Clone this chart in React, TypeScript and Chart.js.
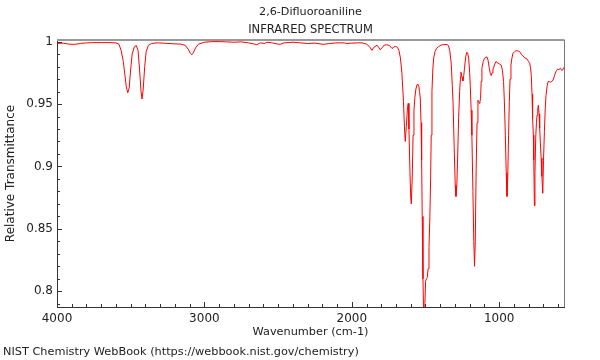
import React, { useEffect, useRef } from "react";
import { Chart, registerables } from "chart.js";

Chart.register(...registerables);

const TITLE = "2,6-Difluoroaniline";
const SUBTITLE = "INFRARED SPECTRUM";
const X_LABEL = "Wavenumber (cm-1)";
const Y_LABEL = "Relative Transmittance";
const FOOTER = "NIST Chemistry WebBook (https://webbook.nist.gov/chemistry)";

const WAVENUMBER = [
  4000, 3960, 3920, 3880, 3840, 3800, 3760, 3700, 3640, 3600,
  3580, 3565, 3550, 3540, 3530, 3520, 3510, 3500, 3490, 3475,
  3462, 3450, 3440, 3430, 3423, 3415, 3405, 3395, 3380, 3360,
  3320, 3280, 3240, 3200, 3160, 3130, 3110, 3095, 3085, 3075,
  3060, 3040, 3000, 2950, 2900, 2850, 2800, 2750, 2700, 2660,
  2644, 2620, 2590, 2576, 2540, 2500, 2486, 2460, 2420, 2397,
  2350, 2300, 2250, 2194, 2150, 2100, 2050, 2033, 2000, 1960,
  1930, 1900, 1880, 1863, 1850, 1829, 1815, 1807, 1795, 1780,
  1765, 1745, 1727, 1715, 1705, 1690, 1680, 1670, 1660, 1649,
  1642, 1637, 1630, 1623, 1617, 1612, 1605, 1600, 1596, 1590,
  1584, 1578, 1572, 1565, 1557, 1552, 1545, 1540, 1535, 1530,
  1526, 1522, 1517, 1512, 1508, 1504, 1499, 1493, 1488, 1482,
  1476, 1470, 1465, 1461, 1456, 1450, 1444, 1435, 1425, 1410,
  1395, 1375, 1354, 1345, 1335, 1325, 1318, 1313, 1305, 1298,
  1293, 1287, 1281, 1275, 1268, 1262, 1259, 1252, 1246, 1240,
  1235, 1227, 1219, 1213, 1207, 1200, 1196, 1190, 1185, 1178,
  1172, 1167, 1162, 1156, 1150, 1144, 1139, 1135, 1130, 1126,
  1122, 1117, 1108, 1099, 1090, 1083, 1075, 1067, 1060, 1054,
  1048, 1042, 1038, 1030, 1022, 1010, 997, 985, 978, 970,
  964, 958, 952, 947, 942, 936, 931, 926, 920, 913,
  906, 895, 884, 870, 861, 850, 838, 825, 811, 800,
  793, 787, 782, 777, 773, 768, 765, 761, 757, 752,
  747, 743, 738, 734, 729, 725, 720, 715, 710, 704,
  699, 693, 687, 682, 675, 668, 660, 653, 643, 634,
  626, 619, 610, 603, 595, 584, 578, 573, 566, 560,
];

const TRANSMITTANCE = [
  0.9985, 0.9988, 0.998, 0.9978, 0.9985, 0.999, 0.9992, 0.9992, 0.9992, 0.999,
  0.998, 0.993, 0.984, 0.974, 0.964, 0.959, 0.963, 0.978, 0.99, 0.996,
  0.9968, 0.993, 0.978, 0.96, 0.954, 0.962, 0.98, 0.992, 0.997, 0.9985,
  0.999, 0.9988, 0.9985, 0.9982, 0.998, 0.997, 0.994, 0.9905, 0.9895, 0.991,
  0.995, 0.998, 0.9995, 1.0, 1.0, 0.9998, 0.9995, 0.9998, 0.999, 0.998,
  0.9975, 0.999, 0.9985, 0.9995, 0.999, 0.998, 0.9978, 0.999, 0.9993, 0.9995,
  0.999, 0.9985, 0.9988, 0.9978, 0.9985, 0.999, 0.999, 0.9985, 0.9988, 0.999,
  0.999, 0.998, 0.996, 0.993, 0.9955, 0.9972, 0.995, 0.9935, 0.995, 0.9972,
  0.9975, 0.997, 0.9945, 0.9955, 0.9962, 0.9955, 0.993, 0.987, 0.975, 0.952,
  0.93, 0.92, 0.932, 0.945, 0.9505, 0.93, 0.895, 0.875, 0.87, 0.89,
  0.925, 0.945, 0.955, 0.962, 0.9655, 0.966, 0.964, 0.96, 0.954, 0.935,
  0.905, 0.86, 0.81, 0.78, 0.775, 0.79, 0.808, 0.81, 0.811, 0.818,
  0.835, 0.86, 0.89, 0.925, 0.96, 0.978, 0.987, 0.992, 0.9945, 0.996,
  0.9972, 0.9976, 0.9978, 0.997, 0.993, 0.982, 0.965, 0.952, 0.915, 0.885,
  0.876, 0.885, 0.91, 0.939, 0.96, 0.972, 0.9755, 0.9715, 0.9685, 0.973,
  0.9787, 0.988, 0.9915, 0.9905, 0.9867, 0.975, 0.965, 0.945, 0.925, 0.88,
  0.84, 0.82, 0.84, 0.8986, 0.935, 0.953, 0.952, 0.9506, 0.952, 0.9546,
  0.968, 0.9787, 0.984, 0.9867, 0.9875, 0.9877, 0.985, 0.9787, 0.9745, 0.9728,
  0.975, 0.978, 0.979, 0.982, 0.984, 0.983, 0.982, 0.981, 0.977, 0.968,
  0.95, 0.925, 0.895, 0.876, 0.89, 0.925, 0.952, 0.97, 0.9813, 0.987,
  0.9907, 0.992, 0.9928, 0.9925, 0.992, 0.99, 0.9885, 0.987, 0.986, 0.984,
  0.9827, 0.979, 0.973, 0.958, 0.9386, 0.925, 0.905, 0.8686, 0.895, 0.9226,
  0.935, 0.941, 0.946, 0.949, 0.942, 0.9306, 0.918, 0.9066, 0.892, 0.8785,
  0.905, 0.928, 0.947, 0.957, 0.964, 0.968, 0.968, 0.9675, 0.968, 0.9693,
  0.972, 0.9747, 0.977, 0.978, 0.9775, 0.9787, 0.9775, 0.9768, 0.978, 0.9795,
];

const X_MIN = 560;
const X_MAX = 4000;
const Y_MIN = 0.7874;
const Y_MAX = 1.0013;
const X_MAJOR_STEP = 1000;
const X_MINOR_STEP = 100;
const Y_MAJOR_STEP = 0.05;
const Y_MINOR_STEP = 0.01;

const FONT = "DejaVu Sans";
const TEXT_COLOR = "#222";

function isMultiple(v: number, step: number) {
  const r = v / step;
  return Math.abs(r - Math.round(r)) < 1e-6;
}

function xTickValues() {
  const out: number[] = [];
  for (let v = X_MAX; v >= X_MIN; v -= X_MINOR_STEP) out.push(v);
  return out;
}

function yTickValues() {
  const out: number[] = [];
  const start = Math.ceil(Y_MIN / Y_MINOR_STEP - 1e-9);
  const end = Math.floor(Y_MAX / Y_MINOR_STEP + 1e-9);
  for (let i = start; i <= end; i++) out.push(Math.round(i * Y_MINOR_STEP * 100) / 100);
  return out;
}

const decorPlugin = {
  id: "decor",
  afterDraw(chart: any) {
    const { ctx, chartArea: a, scales } = chart;
    const xs = scales.x;
    const ys = scales.y;
    ctx.save();
    // inward ticks
    ctx.strokeStyle = "#333";
    ctx.lineWidth = 1;
    ctx.beginPath();
    xs.ticks.forEach((t: any) => {
      const px = Math.round(xs.getPixelForValue(t.value)) + 0.5;
      const len = isMultiple(t.value, X_MAJOR_STEP) ? 5 : 3;
      ctx.moveTo(px, a.bottom);
      ctx.lineTo(px, a.bottom - len);
    });
    ys.ticks.forEach((t: any) => {
      const py = Math.round(ys.getPixelForValue(t.value)) + 0.5;
      const len = isMultiple(t.value, Y_MAJOR_STEP) ? 5 : 3;
      ctx.moveTo(a.left, py);
      ctx.lineTo(a.left + len, py);
    });
    ctx.stroke();
    // top and right frame
    ctx.strokeStyle = "#999";
    ctx.lineWidth = 2;
    ctx.beginPath();
    ctx.moveTo(a.left, a.top);
    ctx.lineTo(a.right + 0.5, a.top);
    ctx.stroke();
    ctx.strokeStyle = "#777";
    ctx.lineWidth = 1;
    ctx.beginPath();
    ctx.moveTo(a.right + 0.5, a.top);
    ctx.lineTo(a.right + 0.5, a.bottom);
    ctx.stroke();
    // texts
    ctx.fillStyle = TEXT_COLOR;
    ctx.textBaseline = "middle";
    const cx = (a.left + a.right) / 2;
    ctx.textAlign = "center";
    ctx.font = `11.2px "${FONT}"`;
    ctx.fillText(TITLE, cx, 12);
    ctx.font = `11.5px "${FONT}"`;
    ctx.fillText(SUBTITLE, cx, 30);
    ctx.font = `11.3px "${FONT}"`;
    ctx.fillText(X_LABEL, cx, 332);
    ctx.textAlign = "left";
    ctx.fillText(FOOTER, 3, 352);
    ctx.save();
    ctx.font = `12px "${FONT}"`;
    ctx.translate(11, (a.top + a.bottom) / 2);
    ctx.rotate(-Math.PI / 2);
    ctx.textAlign = "center";
    ctx.fillText(Y_LABEL, 0, 0);
    ctx.restore();
    ctx.restore();
  },
};

export default function App() {
  const canvasRef = useRef<HTMLCanvasElement | null>(null);

  useEffect(() => {
    const canvas = canvasRef.current;
    if (!canvas) return;
    const points = WAVENUMBER.map((x, i) => ({ x, y: TRANSMITTANCE[i] }));
    const chart = new Chart(canvas, {
      type: "line",
      data: {
        datasets: [
          {
            data: points,
            borderColor: "rgb(255,0,0)",
            borderWidth: 1,
            pointRadius: 0,
            fill: false,
            tension: 0,
          },
        ],
      },
      options: {
        animation: false,
        responsive: false,
        maintainAspectRatio: false,
        events: [],
        layout: { padding: { left: 0, right: 36, top: 40, bottom: 0 } },
        plugins: {
          legend: { display: false },
          title: { display: false },
          tooltip: { enabled: false },
        },
        scales: {
          x: {
            type: "linear",
            reverse: true,
            min: X_MIN,
            max: X_MAX,
            afterBuildTicks: (s: any) => {
              s.ticks = xTickValues().map((value) => ({ value }));
            },
            afterFit: (s: any) => {
              s.height = 53;
            },
            grid: { display: false, drawTicks: false },
            border: { display: true, color: "#333", width: 1 },
            ticks: {
              autoSkip: false,
              maxRotation: 0,
              minRotation: 0,
              padding: 5,
              color: TEXT_COLOR,
              font: { family: FONT, size: 12 },
              callback: (v: any) => (isMultiple(Number(v), X_MAJOR_STEP) ? String(v) : ""),
            },
          },
          y: {
            type: "linear",
            min: Y_MIN,
            max: Y_MAX,
            afterBuildTicks: (s: any) => {
              s.ticks = yTickValues().map((value) => ({ value }));
            },
            afterFit: (s: any) => {
              s.width = 57;
            },
            grid: { display: false, drawTicks: false },
            border: { display: true, color: "#333", width: 1 },
            ticks: {
              autoSkip: false,
              padding: 4,
              color: TEXT_COLOR,
              font: { family: FONT, size: 12 },
              callback: (v: any) => {
                const n = Number(v);
                return isMultiple(n, Y_MAJOR_STEP) ? String(Math.round(n * 100) / 100) : "";
              },
            },
          },
        },
      },
      plugins: [decorPlugin],
    });
    return () => chart.destroy();
  }, []);

  return (
    <div style={{ position: "fixed", left: 0, top: 0, width: 600, height: 360, background: "#fff" }}>
      <canvas ref={canvasRef} width={600} height={360} style={{ display: "block", width: 600, height: 360 }} />
    </div>
  );
}
